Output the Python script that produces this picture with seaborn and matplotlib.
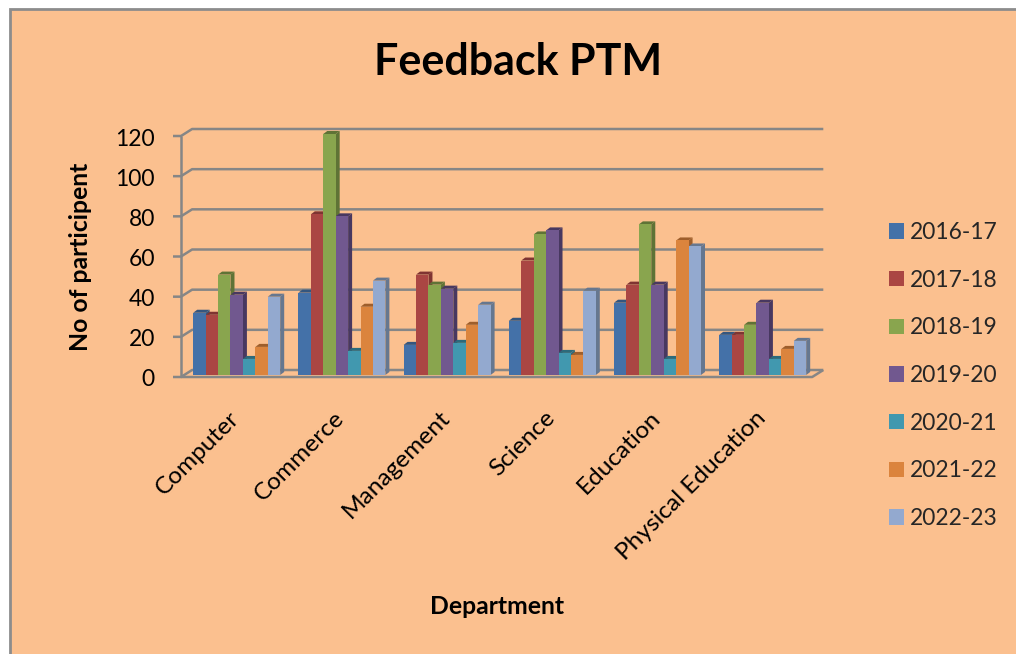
import pandas as pd
import matplotlib.pyplot as plt
import matplotlib.patches as mpatches
from matplotlib.transforms import Affine2D
import seaborn as sns

departments = ['Computer', 'Commerce', 'Management', 'Science', 'Education', 'Physical Education']
years = ['2016-17', '2017-18', '2018-19', '2019-20', '2020-21', '2021-22', '2022-23']
y_2016 = [31, 41, 15, 27, 36, 20]
y_2017 = [30, 80, 50, 57, 45, 20]
y_2018 = [50, 120, 45, 70, 75, 25]
y_2019 = [40, 79, 43, 72, 45, 36]
y_2020 = [8, 12, 16, 11, 8, 8]
y_2021 = [14, 34, 25, 10, 67, 13]
y_2022 = [39, 47, 35, 42, 64, 17]
all_years = [y_2016, y_2017, y_2018, y_2019, y_2020, y_2021, y_2022]
colors = ['#4471A8', '#AA4643', '#89A54E', '#71588F', '#4198AF', '#DB843D', '#93A9CF']
side_colors = ['#34567F', '#7F3432', '#5F7336', '#483860', '#2C6A7B', '#9E5E2B', '#66778F']
y_ticks = [0, 20, 40, 60, 80, 100, 120]

W, H = 1016, 654
BG = '#FBC08F'
GREY = '#868686'

rows = []
for year, vals in zip(years, all_years):
    for dep, v in zip(departments, vals):
        rows.append({'Department': dep, 'Year': year, 'Count': v})
df = pd.DataFrame(rows)

sns.set_theme(style="white")
plt.rcParams['font.family'] = ['Lato', 'DejaVu Sans']

fig = plt.figure(figsize=(W / 100, H / 100), dpi=100, facecolor='white')
# chart area with the grey border, runs off the right and bottom edge
fig.patches.append(mpatches.Rectangle((10 / W, 0 - 0.02), 1.1, 1 - 9 / H + 0.02, transform=fig.transFigure,
                                      facecolor=BG, edgecolor='#8C8C8C', linewidth=2, zorder=-1))

ax = fig.add_axes([184.1 / W, (H - 375) / H, 631.2 / W, 241 / H])
ax.patch.set_visible(False)
sns.barplot(data=df, x='Department', y='Count', hue='Year', palette=colors, saturation=1,
            width=0.827, gap=0, linewidth=0, ax=ax)
ax.set_xlim(-0.5, 5.5)
ax.set_ylim(0, 120)

px_x = 6 / 631.2
px_y = 120 / 241

# fake 3d: side and top of every bar
dx = 4 * px_x
dy = 3 * px_y
for i, cont in enumerate(ax.containers):
    for bar in cont:
        x0 = bar.get_x()
        x1 = x0 + bar.get_width()
        top = bar.get_height()
        bar.set_zorder(4)
        ax.add_patch(mpatches.Polygon([(x1, 0), (x1 + dx, dy), (x1 + dx, top + dy), (x1, top)],
                                      facecolor=side_colors[i], edgecolor='none', zorder=3, clip_on=False))
        ax.add_patch(mpatches.Polygon([(x0, top), (x0 + dx, top + dy), (x1 + dx, top + dy), (x1, top)],
                                      facecolor=side_colors[i], edgecolor='none', zorder=3, clip_on=False))

# walls and floor
front_l = -0.5 - 3.1 * px_x
front_r = 5.5 - 3.1 * px_x
back_l = -0.5 + 8 * px_x
back_r = 5.5 + 8 * px_x
front_off = -2 * px_y
back_off = 5 * px_y
tick_l = front_l - 8 * px_x
line = dict(color=GREY, lw=1.8, clip_on=False, zorder=1, solid_capstyle='butt')
for t in y_ticks:
    ax.plot([tick_l, front_l, back_l, back_r], [t + front_off, t + front_off, t + back_off, t + back_off], **line)
ax.plot([front_l, front_l], [front_off, 120 + front_off], **line)
ax.plot([front_l, front_r, back_r], [front_off, front_off, back_off], **line)

sns.despine(ax=ax, left=True, bottom=True)
ax.set_yticks(y_ticks)
ax.tick_params(axis='y', length=0, pad=21, labelsize=16.5, labelcolor='black')
ax.tick_params(axis='x', length=0, pad=16, labelsize=17.6, labelcolor='black')
ax.set_xlabel('')
ax.set_ylabel('')
# nudge tick labels in pixels, after tick_params so it is not reset
for lab in ax.get_xticklabels():
    lab.set_rotation(45)
    lab.set_ha('right')
    lab.set_rotation_mode('anchor')
    lab.set_transform(lab.get_transform() + Affine2D().translate(-8, -10))
for lab in ax.get_yticklabels():
    lab.set_transform(lab.get_transform() + Affine2D().translate(0, -3))

fig.text(518 / W, 1 - 62 / H, 'Feedback PTM', fontsize=31, fontweight='bold', color='black', ha='center', va='center')
fig.text(80 / W, 1 - 257 / H, 'No of participent', fontsize=17.8, fontweight='bold', color='black',
         rotation=90, ha='center', va='center')
fig.text(497 / W, 1 - 606 / H, 'Department', fontsize=17.8, fontweight='bold', color='black', ha='center', va='center')

handles, labels = ax.get_legend_handles_labels()
ax.legend(handles, labels, loc='upper left', bbox_to_anchor=(889 / W, 1 - 222 / H), bbox_transform=fig.transFigure,
          frameon=False, fontsize=16.4, handlelength=0.66, handleheight=0.66, handletextpad=0.24,
          labelspacing=1.17, borderpad=0, borderaxespad=0)

fig.savefig('out.png', dpi=100, facecolor='white')
